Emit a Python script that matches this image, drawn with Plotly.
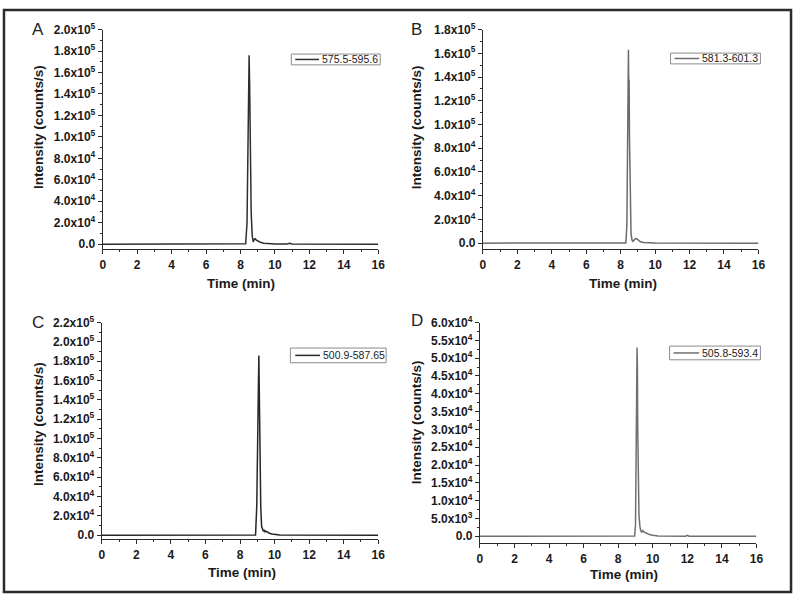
import plotly.graph_objects as go

W, H = 800, 597
FONT = "Liberation Sans, Arial, sans-serif"

# panel A
time_a = [0, 8.30, 8.38, 8.44, 8.48, 8.50, 8.53, 8.57, 8.62, 8.68, 8.74, 8.80, 8.86,
          8.92, 9.0, 9.15, 9.35, 9.6, 10.0, 10.7, 10.85, 11.0, 16]
int_a = [0, 300, 2.0e4, 9.0e4, 1.6e5, 1.76e5, 1.5e5, 9.0e4, 3.0e4, 8.0e3, 2.0e3, 4.5e3, 5.0e3,
         3.8e3, 3.0e3, 1.8e3, 900, 400, 150, 200, 900, 200, 0]
# panel B
time_b = [0, 8.30, 8.36, 8.40, 8.43, 8.45, 8.47, 8.49, 8.51, 8.55, 8.60, 8.66, 8.72, 8.80,
          8.87, 8.95, 9.02, 9.15, 9.35, 9.6, 10.0, 16]
int_b = [0, 200, 1.5e4, 8.0e4, 1.45e5, 1.63e5, 1.25e5, 1.38e5, 9.0e4, 3.5e4, 8.0e3, 2.5e3,
         1.5e3, 3.0e3, 3.8e3, 3.5e3, 2.5e3, 1.2e3, 500, 200, 100, 0]
# panel C
time_c = [0, 8.90, 8.97, 9.02, 9.06, 9.09, 9.12, 9.16, 9.20, 9.25, 9.30, 9.35, 9.40, 9.45,
          9.50, 9.58, 9.70, 9.85, 10.05, 10.3, 16]
int_c = [0, 300, 3.0e4, 1.1e5, 1.7e5, 1.86e5, 1.45e5, 8.0e4, 3.0e4, 9.0e3, 6.0e3, 4.5e3,
         5.0e3, 3.5e3, 4.2e3, 3.0e3, 2.0e3, 1.2e3, 600, 200, 0]
# panel D
time_d = [0, 7.5, 7.6, 7.7, 8.95, 9.00, 9.04, 9.07, 9.09, 9.11, 9.13, 9.15, 9.17, 9.20, 9.25,
          9.30, 9.36, 9.42, 9.48, 9.55, 9.65, 9.8, 10.0, 10.3, 11.9, 12.0, 12.1, 16]
int_d = [0, 0, 200, 0, 100, 3.0e3, 2.0e4, 4.5e4, 5.3e4, 4.8e4, 3.0e4, 1.6e4, 1.4e4, 6.0e3,
         3.0e3, 1.5e3, 1.2e3, 1.6e3, 1.2e3, 1.0e3, 800, 500, 300, 100, 0, 250, 0, 0]

names = ["575.5-595.6", "581.3-601.3", "500.9-587.65", "505.8-593.4"]
letters = ["A", "B", "C", "D"]
x_ticks = [0, 2, 4, 6, 8, 10, 12, 14, 16]

yt_a = [0, 2e4, 4e4, 6e4, 8e4, 1e5, 1.2e5, 1.4e5, 1.6e5, 1.8e5, 2e5]
yl_a = ["0.0", "2.0x10<sup>4</sup>", "4.0x10<sup>4</sup>", "6.0x10<sup>4</sup>", "8.0x10<sup>4</sup>",
        "1.0x10<sup>5</sup>", "1.2x10<sup>5</sup>", "1.4x10<sup>5</sup>", "1.6x10<sup>5</sup>",
        "1.8x10<sup>5</sup>", "2.0x10<sup>5</sup>"]
yt_b = yt_a[:10]
yl_b = yl_a[:10]
yt_c = yt_a + [2.2e5]
yl_c = yl_a + ["2.2x10<sup>5</sup>"]
yt_d = [0, 5e3, 1e4, 1.5e4, 2e4, 2.5e4, 3e4, 3.5e4, 4e4, 4.5e4, 5e4, 5.5e4, 6e4]
yl_d = ["0.0", "5.0x10<sup>3</sup>", "1.0x10<sup>4</sup>", "1.5x10<sup>4</sup>", "2.0x10<sup>4</sup>",
        "2.5x10<sup>4</sup>", "3.0x10<sup>4</sup>", "3.5x10<sup>4</sup>", "4.0x10<sup>4</sup>",
        "4.5x10<sup>4</sup>", "5.0x10<sup>4</sup>", "5.5x10<sup>4</sup>", "6.0x10<sup>4</sup>"]


def px(x):
    return x / W


def py(y):
    return 1 - y / H


panels = [
    # data, color, x-domain px, y-domain px (top, bottom), y range, ticks, minor dtick
    dict(t=time_a, v=int_a, color="#2e2e2e", xd=(101, 380), yd=(21, 245), yr=(-4.6e3, 2.0e5),
         yt=yt_a, yl=yl_a, minor=1e4, leg=(292, 46, 382, 57), line=(296, 320), letter=(35, 21),
         ytitle=(36, 121), xtitle=(241, 280)),
    dict(t=time_b, v=int_b, color="#6b6b6b", xd=(486, 765), yd=(21, 245), yr=(-5.0e3, 1.8e5),
         yt=yt_b, yl=yl_b, minor=1e4, leg=(676, 45, 767, 56), line=(680, 705), letter=(419, 21),
         ytitle=(419, 121), xtitle=(628, 280)),
    dict(t=time_c, v=int_c, color="#262626", xd=(100, 380), yd=(320, 541), yr=(-4.1e3, 2.2e5),
         yt=yt_c, yl=yl_c, minor=1e4, leg=(291, 346, 388, 361), line=(296, 321), letter=(35, 320),
         ytitle=(36, 424), xtitle=(242, 575)),
    dict(t=time_d, v=int_d, color="#707070", xd=(483, 763), yd=(320, 545), yr=(-1.9e3, 6.0e4),
         yt=yt_d, yl=yl_d, minor=2.5e3, leg=(675, 344, 767, 358), line=(679, 705), letter=(419, 318),
         ytitle=(419, 422), xtitle=(629, 577)),
]

fig = go.Figure()
shapes = []
annotations = []
layout = {}

for i, p in enumerate(panels):
    n = "" if i == 0 else str(i + 1)
    fig.add_trace(go.Scatter(x=p["t"], y=p["v"], mode="lines", name=names[i],
                             line=dict(color=p["color"], width=1.5),
                             xaxis="x" + n, yaxis="y" + n, showlegend=False))
    axis_common = dict(showgrid=False, zeroline=False, showline=True, linecolor="#2a2a2a",
                       linewidth=1.2, ticks="outside", ticklen=4, tickwidth=1.1,
                       tickcolor="#2a2a2a",
                       tickfont=dict(family=FONT, size=12, color="#1a1a1a", weight="bold"))
    layout["xaxis" + n] = dict(axis_common, domain=[px(p["xd"][0]), px(p["xd"][1])],
                               range=[0, 16], anchor="y" + n, tickmode="array", tickvals=x_ticks,
                               minor=dict(ticks="outside", ticklen=2, tickcolor="#2a2a2a",
                                          dtick=1, tick0=0))
    layout["yaxis" + n] = dict(axis_common, domain=[py(p["yd"][1]), py(p["yd"][0])],
                               range=list(p["yr"]), anchor="x" + n, tickmode="array",
                               tickvals=p["yt"], ticktext=p["yl"],
                               minor=dict(ticks="outside", ticklen=2, tickcolor="#2a2a2a",
                                          dtick=p["minor"], tick0=0))
    # legend box
    x0, y0, x1, y1 = p["leg"]
    shapes.append(dict(type="rect", xref="paper", yref="paper", x0=px(x0), x1=px(x1),
                       y0=py(y1), y1=py(y0), line=dict(color="#8c8c8c", width=1)))
    ym = (y0 + y1) / 2
    shapes.append(dict(type="line", xref="paper", yref="paper", x0=px(p["line"][0]),
                       x1=px(p["line"][1]), y0=py(ym), y1=py(ym),
                       line=dict(color=p["color"], width=1.5)))
    annotations.append(dict(text=names[i], xref="paper", yref="paper", x=px(p["line"][1] + 1),
                            y=py(ym), xanchor="left", yanchor="middle", showarrow=False,
                            font=dict(family=FONT, size=10.5, color="#222")))
    annotations.append(dict(text=letters[i], xref="paper", yref="paper", x=px(p["letter"][0]),
                            y=py(p["letter"][1]), xanchor="center", yanchor="middle",
                            showarrow=False, font=dict(family=FONT, size=17, color="#222")))
    annotations.append(dict(text="<b>Intensity (counts/s)</b>", xref="paper", yref="paper",
                            x=px(p["ytitle"][0]), y=py(p["ytitle"][1]), textangle=-90,
                            xanchor="center", yanchor="middle", showarrow=False,
                            font=dict(family=FONT, size=13.5, color="#1a1a1a")))
    annotations.append(dict(text="<b>Time (min)</b>", xref="paper", yref="paper",
                            x=px(p["xtitle"][0]), y=py(p["xtitle"][1]), xanchor="center",
                            yanchor="middle", showarrow=False,
                            font=dict(family=FONT, size=13.5, color="#1a1a1a")))

# outer frame
shapes.append(dict(type="rect", xref="paper", yref="paper", x0=px(1), x1=px(798),
                   y0=py(595), y1=py(1), line=dict(color="#2b2b2b", width=2.5)))

fig.update_layout(**layout)
fig.update_layout(width=W, height=H, margin=dict(l=0, r=0, t=0, b=0),
                  paper_bgcolor="white", plot_bgcolor="white", showlegend=False,
                  shapes=shapes, annotations=annotations, font=dict(family=FONT))

# drop the default page margin so the 800x597 figure fills the window exactly
fig.write_html("out.html", config={"displayModeBar": False},
               post_script="document.body.style.margin='0';document.body.style.overflow='hidden';")
